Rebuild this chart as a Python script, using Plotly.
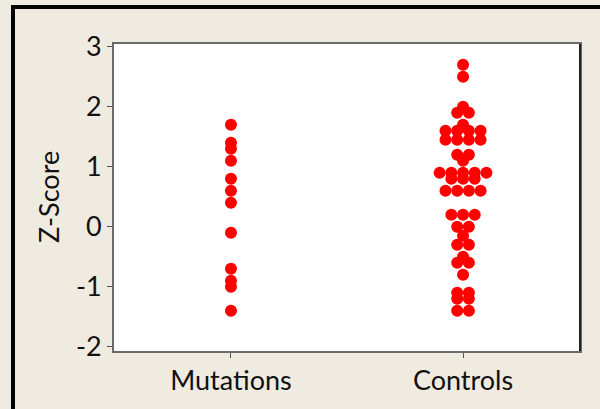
import plotly.graph_objects as go
from collections import defaultdict

categories = ["Mutations", "Controls"]
mutations = [1.7, 1.4, 1.3, 1.1, 0.8, 0.6, 0.4, -0.1, -0.7, -0.9, -1.0, -1.4]
controls = [2.7, 2.5, 2.0, 1.9, 1.9, 1.7,
            1.6, 1.6, 1.6, 1.6, 1.45, 1.45, 1.45, 1.45,
            1.2, 1.2, 1.1,
            0.9, 0.9, 0.9, 0.9, 0.9, 0.8, 0.8, 0.8, 0.6, 0.6, 0.6, 0.6,
            0.2, 0.2, 0.2, 0.0, 0.0, -0.15, -0.3, -0.3,
            -0.5, -0.6, -0.6, -0.8,
            -1.1, -1.1, -1.2, -1.2, -1.4, -1.4]
y_ticks = [-2, -1, 0, 1, 2, 3]
y_ticktext = ["-2", "-1", "0", "1", "2", "3"]

W, H = 600, 409
ML, MR, MT, MB = 114, 20, 44, 58
x_range = [-0.504, 1.504]
y_range = [-2.072, 3.045]
px_per_unit = (W - ML - MR) / (x_range[1] - x_range[0])
step = 11.7 / px_per_unit  # horizontal spacing of tied points


def spread(values, center):
    groups = defaultdict(int)
    for v in values:
        groups[v] += 1
    xs, ys = [], []
    for v, n in groups.items():
        for i in range(n):
            xs.append(center + (i - (n - 1) / 2) * step)
            ys.append(v)
    return xs, ys


fig = go.Figure()
for idx, vals in enumerate([mutations, controls]):
    xs, ys = spread(vals, idx)
    fig.add_trace(go.Scatter(x=xs, y=ys, mode="markers",
                             marker=dict(color="#FF0000", size=12, line=dict(width=0)),
                             showlegend=False, hoverinfo="y"))

font_family = "Lato, 'Open Sans', sans-serif"
FS = 27
pw = W - ML - MR
ph = H - MT - MB


def px2paperx(p):
    return (p - ML) / pw


def py2papery(p):
    return 1 - (p - MT) / ph


fig.update_layout(
    template="none",
    width=W, height=H,
    margin=dict(l=ML, r=MR, t=MT, b=MB, pad=0),
    paper_bgcolor="#EFEBE1",
    plot_bgcolor="#FFFFFF",
    font=dict(family=font_family, size=FS, color="#111111"),
    xaxis=dict(range=x_range, tickvals=[0, 1], ticktext=categories,
               showgrid=False, zeroline=False, showline=True, mirror=True,
               linecolor="#6A6A6A", linewidth=2, ticks="outside", ticklen=5,
               tickcolor="#555555", tickwidth=1, fixedrange=True, automargin=False),
    yaxis=dict(range=y_range, tickvals=y_ticks, ticktext=y_ticktext,
               showgrid=False, zeroline=False,
               showline=True, mirror=True, linecolor="#6A6A6A", linewidth=2,
               ticks="outside", ticklen=5, tickcolor="#555555", tickwidth=1,
               fixedrange=True, automargin=False),
    shapes=[
        # outer black frame (left and top visible)
        dict(type="rect", xref="paper", yref="paper",
             x0=px2paperx(13), x1=px2paperx(W + 20),
             y0=py2papery(H + 20), y1=py2papery(7),
             line=dict(color="#000000", width=4), layer="below"),
        # darker right edge of plot frame
        dict(type="line", xref="paper", yref="paper", x0=1, x1=1, y0=0, y1=1,
             line=dict(color="#222222", width=2)),
    ],
    annotations=[
        dict(text="Z-Score", xref="paper", yref="paper",
             x=px2paperx(48), y=py2papery(197), textangle=-90,
             showarrow=False, xanchor="center", yanchor="middle",
             font=dict(size=FS, family=font_family, color="#111111")),
    ],
)

fig.write_html("out.html",
               config={"displayModeBar": False},
               post_script="document.body.style.margin='0';"
                           "document.body.style.background='#EFEBE1';"
                           "document.body.style.overflow='hidden';")
